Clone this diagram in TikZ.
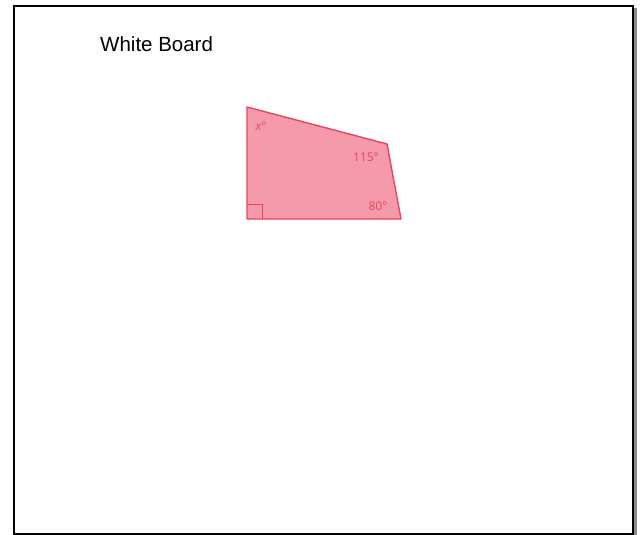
\documentclass[tikz,border=0pt]{standalone}
\usepackage{fontspec}
\setmainfont{Liberation Sans}
\newfontfamily\labelfont{Open Sans}
\definecolor{boardpink}{HTML}{F59AAA}
\definecolor{boardred}{HTML}{E8455C}
\definecolor{shadowgray}{HTML}{8A8A8A}
\tikzset{
  angle label/.style={text=boardred, inner sep=0pt, font=\labelfont\fontsize{12}{14}\selectfont},
  board title/.style={anchor=base west, inner sep=0pt, font=\fontsize{20.5}{24}\selectfont}
}
\begin{document}
\begin{tikzpicture}[x=1pt, y=-1pt]
  \useasboundingbox (0,0) rectangle (640,535);
  % frame with its shadow
  \fill[shadowgray] (633.5,8) rectangle (637,535);
  \draw[line width=2pt] (13.5,6) -- (633,6) -- (633,534) -- (13.5,534) -- cycle;
  \node[board title] (title) at (100,51.7) {White Board};
  % quadrilateral
  \coordinate (tl) at (247,107);
  \coordinate (tr) at (387,144);
  \coordinate (br) at (401,219);
  \coordinate (bl) at (247,219);
  \filldraw[fill=boardpink, draw=boardred, line width=1.4pt, line join=round]
    (tl) -- (tr) -- (br) -- (bl) -- cycle;
  \draw[boardred, line width=0.8pt] (247,204) -- (262,204) -- (262,219);
  \node[angle label] (x) at (261,126) {\itshape x°};
  \node[angle label] (a115) at (366,157) {115°};
  \node[angle label] (a80) at (378,206) {80°};
\end{tikzpicture}
\end{document}
